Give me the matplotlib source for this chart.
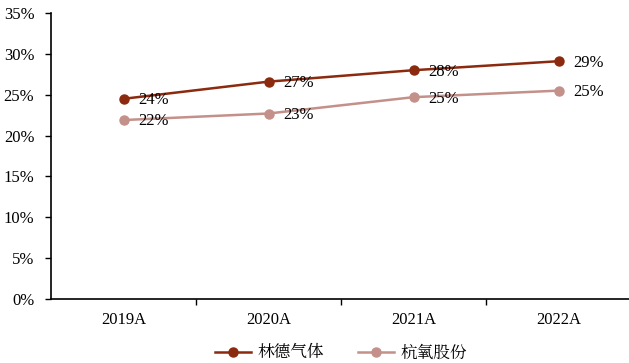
import matplotlib.pyplot as plt
import matplotlib.ticker as mticker

# data
years = ["2019A", "2020A", "2021A", "2022A"]
linde = [24.5, 26.6, 28.0, 29.1]
hangyang = [21.9, 22.7, 24.7, 25.5]
linde_labels = ["24%", "27%", "28%", "29%"]
hangyang_labels = ["22%", "23%", "25%", "25%"]

plt.rcParams['font.family'] = ['Liberation Serif', 'Noto Serif CJK SC', 'Noto Sans CJK SC', 'DejaVu Sans']

fig = plt.figure(figsize=(6.29, 3.63), dpi=100)
ax = fig.add_axes([0.0811, 0.1763, 0.9221, 0.7879])

c_dark = '#8B2A0E'
c_light = '#C4908A'
x = list(range(len(years)))

ax.plot(x, linde, color=c_dark, lw=1.8, marker='o', ms=6.5, label='林德气体')
ax.plot(x, hangyang, color=c_light, lw=1.8, marker='o', ms=6.5, label='杭氧股份')

for xi, v, s in zip(x, linde, linde_labels):
    ax.annotate(s, (xi, v), xytext=(10.5, -1), textcoords='offset points',
                ha='left', va='center', fontsize=12)
for xi, v, s in zip(x, hangyang, hangyang_labels):
    ax.annotate(s, (xi, v), xytext=(10.5, -1), textcoords='offset points',
                ha='left', va='center', fontsize=12)

ax.set_ylim(0, 35)
ax.yaxis.set_major_locator(mticker.MultipleLocator(5))
ax.yaxis.set_major_formatter(mticker.FuncFormatter(lambda v, p: f"{v:.0f}%"))
ax.set_xlim(-0.5, 3.5)
ax.set_xticks(x)
ax.set_xticklabels(years)
ax.set_xticks([0.5, 1.5, 2.5], minor=True)
ax.tick_params(axis='x', which='major', length=0, pad=9, labelsize=12)
ax.tick_params(axis='x', which='minor', length=4, direction='out', width=1)
ax.tick_params(axis='y', length=4, width=1, labelsize=12, pad=8)

for side in ['top', 'right']:
    ax.spines[side].set_visible(False)
for side in ['left', 'bottom']:
    ax.spines[side].set_linewidth(1.2)

ax.legend(loc='upper center', bbox_to_anchor=(0.5, -0.11), ncol=2, frameon=False,
          fontsize=12, handlelength=2.2, columnspacing=2.0, handletextpad=0.4)

fig.savefig('out.png', dpi=100)
